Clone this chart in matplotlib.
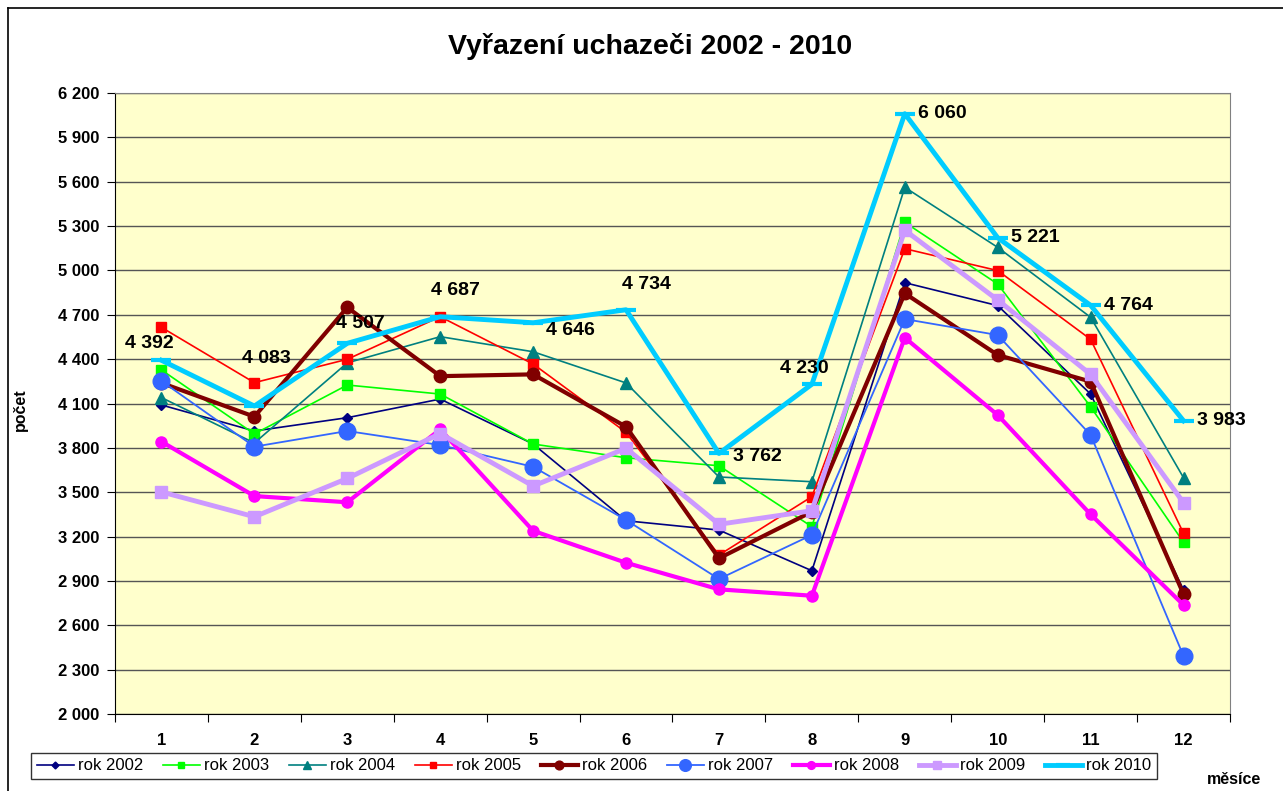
import matplotlib
matplotlib.use("Agg")
import matplotlib.pyplot as plt
from matplotlib.lines import Line2D
from matplotlib.ticker import FuncFormatter, FixedLocator

plt.rcParams['font.family'] = ['Liberation Sans', 'DejaVu Sans']

months = list(range(1, 13))
years = ["rok 2002", "rok 2003", "rok 2004", "rok 2005", "rok 2006",
         "rok 2007", "rok 2008", "rok 2009", "rok 2010"]

r2002 = [4090, 3914, 4004, 4130, 3826, 3307, 3244, 2969, 4917, 4762, 4164, 2839]
r2003 = [4327, 3894, 4225, 4164, 3826, 3733, 3679, 3267, 5325, 4908, 4078, 3161]
r2004 = [4140, 3833, 4375, 4552, 4450, 4239, 3603, 3571, 5562, 5156, 4683, 3598]
r2005 = [4615, 4241, 4399, 4687, 4367, 3905, 3075, 3470, 5147, 4999, 4534, 3222]
r2006 = [4239, 4011, 4750, 4285, 4297, 3943, 3053, 3368, 4845, 4428, 4248, 2810]
r2007 = [4252, 3808, 3914, 3819, 3672, 3312, 2913, 3211, 4671, 4563, 3887, 2392]
r2008 = [3842, 3474, 3432, 3925, 3239, 3023, 2843, 2800, 4545, 4022, 3350, 2737]
r2009 = [3502, 3334, 3593, 3897, 3542, 3797, 3283, 3375, 5272, 4800, 4297, 3429]
r2010 = [4392, 4083, 4507, 4687, 4646, 4734, 3762, 4230, 6060, 5221, 4764, 3983]

series = [r2002, r2003, r2004, r2005, r2006, r2007, r2008, r2009, r2010]

# styles: colour, marker, markersize, linewidth
styles = [
    ("#000080", "D", 5, 1.2),
    ("#00FF00", "s", 7, 1.2),
    ("#008080", "^", 8, 1.2),
    ("#FF0000", "s", 7, 1.2),
    ("#800000", "o", 9, 3.0),
    ("#3366FF", "o", 12, 1.3),
    ("#FF00FF", "o", 8, 3.0),
    ("#CC99FF", "s", 8, 3.5),
    ("#00CCFF", "_", 14, 3.5),
]

# label offsets for 2010 data labels (pixels, up is positive)
lab_off = [(-12, 17), (12, 48), (13, 20), (15, 26), (37, -8), (20, 25),
           (38, -3), (-8, 16), (38, 0), (38, 0), (38, 0), (38, 0)]

fig = plt.figure(figsize=(12.83, 7.91), dpi=100)
fig.add_artist(Line2D([8 / 1283, 8 / 1283], [0, 1 - 8 / 791], color="black", lw=1.2))
fig.add_artist(Line2D([8 / 1283, 1], [1 - 8 / 791, 1 - 8 / 791], color="black", lw=1.2))

ax = fig.add_axes([115 / 1283, 77 / 791, 1115 / 1283, 621 / 791])
ax.set_facecolor("#FFFFCC")

for data, name, (c, m, ms, lw) in zip(series, years, styles):
    mew = 3 if m == "_" else 1
    ax.plot(months, data, color=c, marker=m, markersize=ms, lw=lw,
            markeredgecolor=c, markeredgewidth=mew, label=name)

fmt = lambda v: f"{int(v):,}".replace(",", " ")
for x, v, (dx, dy) in zip(months, r2010, lab_off):
    ax.annotate(fmt(v), (x, v), xytext=(dx, dy), textcoords="offset pixels",
                ha="center", va="center", fontsize=14, fontweight="bold")

ax.set_xlim(0.5, 12.5)
ax.set_ylim(2000, 6200)
ax.set_yticks(range(2000, 6201, 300))
ax.yaxis.set_major_formatter(FuncFormatter(lambda v, p: fmt(v)))
ax.grid(axis="y", color="#555555", lw=1)
ax.set_axisbelow(True)

ax.xaxis.set_major_locator(FixedLocator([i + 0.5 for i in range(0, 13)]))
ax.xaxis.set_minor_locator(FixedLocator(months))
ax.set_xticklabels([])
ax.set_xticklabels([str(m) for m in months], minor=True)
ax.tick_params(axis="x", which="major", length=6, direction="out")
ax.tick_params(axis="x", which="minor", length=0, pad=14)
ax.tick_params(axis="y", length=6, direction="out", pad=5)
for lbl in ax.get_xticklabels(minor=True) + ax.get_yticklabels():
    lbl.set_fontweight("bold")
    lbl.set_fontsize(12)

for s in ["top", "right"]:
    ax.spines[s].set_color("#808080")
ax.spines["left"].set_color("black")
ax.spines["bottom"].set_color("black")

fig.text(0.5066, 1 - 47 / 791, "Vyřazení uchazeči 2002 - 2010", ha="center",
         va="center", fontsize=20.5, fontweight="bold")
fig.text(20 / 1283, 1 - 410 / 791, "počet", rotation=90, ha="center",
         va="center", fontsize=11.5, fontweight="bold")
fig.text(1234 / 1283, 1 - 779 / 791, "měsíce", ha="center", va="center",
         fontsize=11.5, fontweight="bold")

leg = fig.legend(loc="center", bbox_to_anchor=(594 / 1283, 1 - 766 / 791),
                 ncol=9, fontsize=12, frameon=True, fancybox=False,
                 handlelength=2.2, columnspacing=1.2, handletextpad=0.25,
                 borderpad=0.35, markerscale=0.7)
leg.get_frame().set_edgecolor("black")
leg.get_frame().set_linewidth(1)

fig.savefig("out.png", dpi=100)
